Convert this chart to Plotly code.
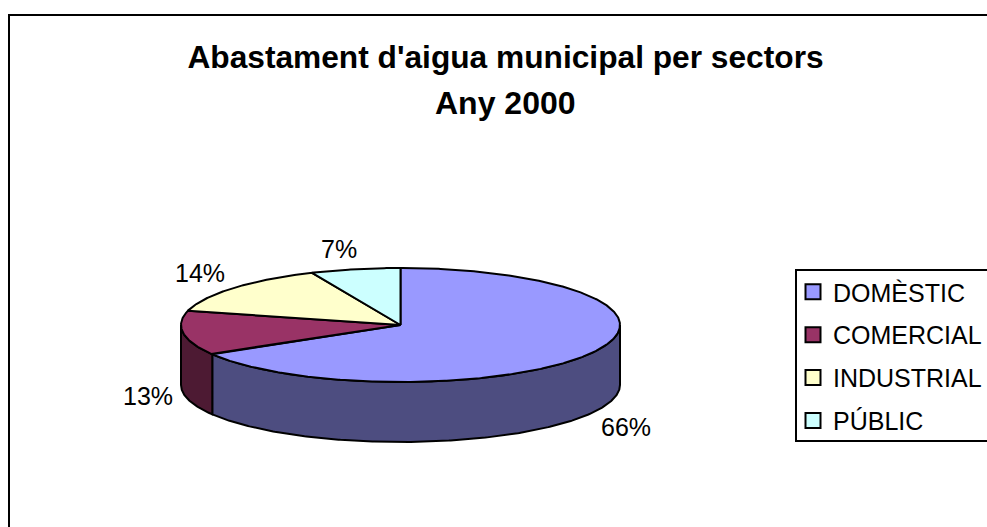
# -*- coding: utf-8 -*-
import numpy as np
import plotly.graph_objects as go

sectors = ['DOMÈSTIC', 'COMERCIAL', 'INDUSTRIAL', 'PÚBLIC']
shares = [66.4, 12.6, 14.4, 6.6]
top_colors = ['#9999FF', '#993366', '#FFFFCC', '#CCFFFF']
side_colors = ['#4D4D80', '#4D1A33', '#80806A', '#6A8080']
label_x = [625.5, 147.5, 200, 338.5]
label_y = [427, 396, 273, 249]

FONT = 'Liberation Sans, Arial, sans-serif'
W, H = 987, 527
CX, CY, RX, RY, DEPTH = 400.5, 325, 219.5, 57, 60


def arc(a0, a1):
    # angles in degrees, clockwise from 12 o'clock
    t = np.radians(np.linspace(a0, a1, max(int(abs(a1 - a0)) * 2, 2)))
    return CX + RX * np.sin(t), CY - RY * np.cos(t)


edges = np.concatenate([[0], np.cumsum(shares)]) / sum(shares) * 360
fig = go.Figure()

# side walls, only the front half of the cylinder shows
for a0, a1, col in zip(edges[:-1], edges[1:], side_colors):
    lo, hi = max(a0, 90), min(a1, 270)
    if lo >= hi:
        continue
    x, y = arc(lo, hi)
    fig.add_trace(go.Scatter(
        x=np.concatenate([x, x[::-1], x[:1]]),
        y=np.concatenate([y, y[::-1] + DEPTH, y[:1]]),
        mode='lines', fill='toself', fillcolor=col,
        line=dict(color='black', width=2),
        showlegend=False, hoverinfo='skip'))

# top slices
for a0, a1, col, name in zip(edges[:-1], edges[1:], top_colors, sectors):
    x, y = arc(a0, a1)
    fig.add_trace(go.Scatter(
        x=np.concatenate([[CX], x, [CX]]),
        y=np.concatenate([[CY], y, [CY]]),
        mode='lines', fill='toself', fillcolor=col,
        line=dict(color='black', width=2),
        showlegend=False, name=name, hoverinfo='name'))

# legend entries
for name, col in zip(sectors, top_colors):
    fig.add_trace(go.Scatter(
        x=[None], y=[None], mode='markers', name=name, legendgroup=name,
        marker=dict(symbol='square', size=15, color=col,
                    line=dict(color='black', width=2))))

annotations = [
    dict(x=505, y=103, text='<b>Any 2000</b>', showarrow=False,
         font=dict(family=FONT, size=32, color='black')),
]
for v, lx, ly in zip(shares, label_x, label_y):
    annotations.append(dict(x=lx, y=ly, text='%d%%' % round(v), showarrow=False,
                            font=dict(family=FONT, size=25, color='black')))
for a in annotations:
    a.update(xref='x', yref='y')

fig.update_layout(
    width=W, height=H, autosize=False,
    margin=dict(l=0, r=0, t=0, b=0),
    paper_bgcolor='white', plot_bgcolor='white',
    title=dict(text="<b>Abastament d'aigua municipal per sectors</b>",
               x=505.5 / W, xanchor='center', y=1 - 57 / H, yanchor='middle',
               font=dict(family=FONT, size=31.7, color='black')),
    xaxis=dict(range=[0, W], visible=False, fixedrange=True),
    yaxis=dict(range=[H, 0], visible=False, fixedrange=True),
    legend=dict(x=793 / W, y=1 - 269 / H, xanchor='left', yanchor='top',
                font=dict(family=FONT, size=25, color='black'),
                bgcolor='rgba(0,0,0,0)', tracegroupgap=7.4,
                itemclick=False, itemdoubleclick=False),
    annotations=annotations,
    shapes=[
        dict(type='rect', x0=9, y0=15, x1=W + 20, y1=H + 20,
             line=dict(color='black', width=2), layer='below'),
        dict(type='rect', x0=796, y0=270, x1=W + 20, y1=441,
             line=dict(color='black', width=2), layer='below'),
    ],
)

# page default margin would push the figure off the window
fig.write_html("out.html", config=dict(displayModeBar=False),
               post_script="document.body.style.margin='0';document.body.style.overflow='hidden';")
